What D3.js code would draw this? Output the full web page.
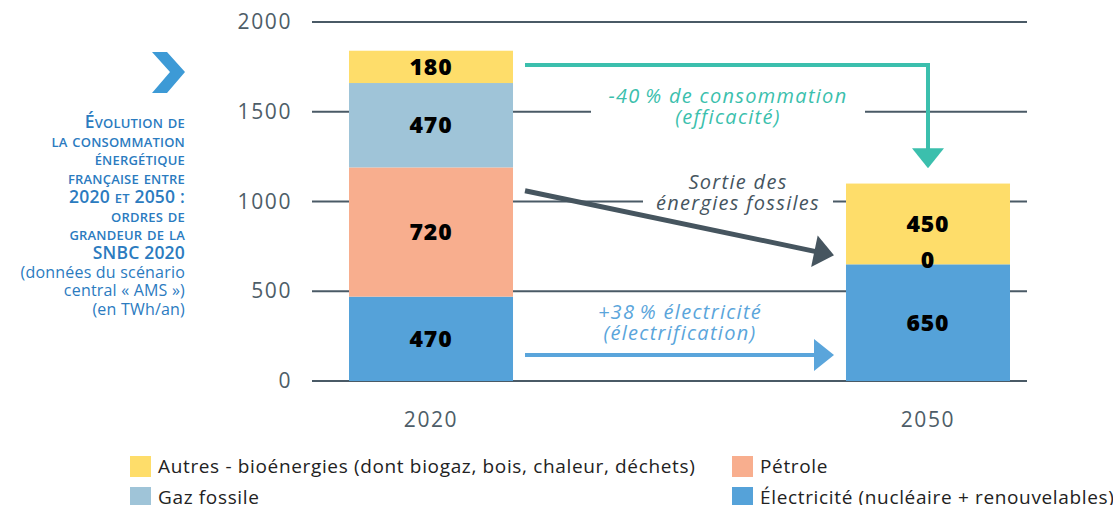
<!DOCTYPE html>
<meta charset="utf-8">
<head>
  <script src="https://d3js.org/d3.v7.min.js"></script>
  <style>
    body { margin: 0; background: #fff; }
    svg text { font-family: "Open Sans", sans-serif; }
  </style>
</head>
<body>
<div id="chart"></div>
<script>
"use strict"

// données (TWh/an)
var annees = ["2020", "2050"];
var electricite = [470, 650];
var petrole = [720, 0];
var gaz = [470, 0];
var autres = [180, 450];
var series = ["electricite", "petrole", "gaz", "autres"];
var nomsSeries = ["Électricité (nucléaire + renouvelables)", "Pétrole", "Gaz fossile",
                  "Autres - bioénergies (dont biogaz, bois, chaleur, déchets)"];
var couleurs = ["#55a2d9", "#f8ae8e", "#9fc4d8", "#fedd6a"];
var ticksY = [0, 500, 1000, 1500, 2000];

var titre = ["Évolution de", "la consommation", "énergétique", "française entre",
             "2020 et 2050 :", "ordres de", "grandeur de la", "SNBC 2020",
             "(données du scénario", "central « AMS »)", "(en TWh/an)"];

var largeur = 1113, hauteur = 505;
var svg = d3.select("#chart").append("svg")
            .attr("width", largeur).attr("height", hauteur);

var x = d3.scaleBand().domain(annees).range([349, 1010]).paddingInner(0.67).paddingOuter(0);
var y = d3.scaleLinear().domain([0, 2000]).range([381, 22]);

// grille + axe
var grille = svg.append("g");
grille.selectAll("line").data(ticksY).enter().append("line")
  .attr("x1", 312).attr("x2", 1027)
  .attr("y1", d => y(d)).attr("y2", d => y(d))
  .attr("stroke", "#4a5a66").attr("stroke-width", 2);
grille.selectAll("text").data(ticksY).enter().append("text")
  .attr("x", 292).attr("y", d => y(d) + 7)
  .attr("text-anchor", "end")
  .attr("font-size", 21).attr("fill", "#4d5d68")
  .attr("letter-spacing", 1.6)
  .text(d => d);

// empiler
var table = annees.map((a, i) => ({annee: a, electricite: electricite[i], petrole: petrole[i], gaz: gaz[i], autres: autres[i]}));
var pile = d3.stack().keys(series)(table);

// masques blancs pour les annotations (coupent la grille)
var masques = [[591, 100, 274, 26], [643, 190, 190, 24]];
svg.selectAll("rect.masque").data(masques).enter().append("rect")
  .attr("class", "masque")
  .attr("x", d => d[0]).attr("y", d => d[1]).attr("width", d => d[2]).attr("height", d => d[3])
  .attr("fill", "#fff");

var barres = svg.append("g");
pile.forEach(function(s, k) {
  barres.selectAll("rect.s" + k).data(s).enter().append("rect")
    .attr("class", "s" + k)
    .attr("x", d => x(d.data.annee))
    .attr("width", x.bandwidth())
    .attr("y", d => y(d[1]))
    .attr("height", d => y(d[0]) - y(d[1]))
    .attr("fill", couleurs[k]);
});

// étiquettes des valeurs
pile.forEach(function(s, k) {
  s.forEach(function(d) {
    var v = d[1] - d[0];
    if (v === 0 && series[k] !== "petrole") return;
    svg.append("text")
      .attr("x", x(d.data.annee) + x.bandwidth() / 2)
      .attr("y", y((d[0] + d[1]) / 2) + 8 - (v === 0 ? 4 : 0))
      .attr("text-anchor", "middle")
      .attr("font-size", 23).attr("font-weight", 800).attr("fill", "#000")
      .attr("letter-spacing", 0.8)
      .text(v);
  });
});

// axe x
svg.selectAll("text.annee").data(annees).enter().append("text")
  .attr("class", "annee")
  .attr("x", d => x(d) + x.bandwidth() / 2).attr("y", 427)
  .attr("text-anchor", "middle").attr("font-size", 21).attr("fill", "#4d5d68")
  .attr("letter-spacing", 1.6)
  .text(d => d);

// flèches
function fleche(pts, c, w) {
  var ligne = d3.line();
  var a = pts[pts.length - 2], b = pts[pts.length - 1];
  svg.append("path").attr("d", ligne(pts.slice(0, -1).concat([raccourcir(a, b, 16)])))
    .attr("fill", "none").attr("stroke", c).attr("stroke-width", w);
  var ang = Math.atan2(b[1] - a[1], b[0] - a[0]);
  var L = 20, H = 16;
  var base = [b[0] - L * Math.cos(ang), b[1] - L * Math.sin(ang)];
  var p1 = [base[0] + H * Math.sin(ang), base[1] - H * Math.cos(ang)];
  var p2 = [base[0] - H * Math.sin(ang), base[1] + H * Math.cos(ang)];
  svg.append("path").attr("d", "M" + b + "L" + p1 + "L" + p2 + "Z").attr("fill", c);
}
function raccourcir(a, b, n) {
  var dx = b[0] - a[0], dy = b[1] - a[1], l = Math.sqrt(dx * dx + dy * dy);
  return [b[0] - dx / l * n, b[1] - dy / l * n];
}
var xd = x("2020") + x.bandwidth() + 12, xf = x("2050") + x.bandwidth() / 2;
fleche([[xd, y(1760)], [xf, y(1760)], [xf, y(1185)]], "#3bbfad", 4);
fleche([[xd, y(1060)], [x("2050") - 12, y(700)]], "#46555f", 5);
fleche([[xd, y(145)], [x("2050") - 12, y(145)]], "#5aa5db", 4);

// textes des annotations
function note(lignes, cx, y0, c) {
  var t = svg.append("text").attr("text-anchor", "middle")
    .attr("font-size", 20).attr("font-style", "italic")
    .attr("letter-spacing", 1.3).attr("fill", c);
  lignes.forEach(function(l, i) {
    t.append("tspan").attr("x", cx).attr("y", y0 + i * 21).text(l);
  });
}
note(["-40\u2009% de consommation", "(efficacité)"], 728, 103, "#3bbfad");
note(["Sortie des", "énergies fossiles"], 738, 189, "#46555f");
note(["+38\u2009% électricité", "(électrification)"], 680, 319, "#5aa5db");

// chevron
svg.append("path").attr("d", "M152,52 L167,52 L185,72 L167,93 L152,93 L170,72 Z").attr("fill", "#3d9ad6");

// titre : petites capitales simulées
titre.forEach(function(t, i) {
  var txt = svg.append("text").attr("x", 185).attr("y", 128 + i * 18.7)
    .attr("text-anchor", "end").attr("fill", "#2b7bbf");
  if (i >= 8) {
    txt.attr("font-size", 16).attr("letter-spacing", 0.2).text(t);
    return;
  }
  txt.attr("font-weight", 600);
  var morceaux = [];
  t.split("").forEach(function(ch) {
    var petit = ch !== ch.toUpperCase();
    var dern = morceaux[morceaux.length - 1];
    if (dern && dern.petit === petit) dern.s += ch;
    else morceaux.push({petit: petit, s: ch});
  });
  morceaux.forEach(function(m) {
    txt.append("tspan")
      .attr("font-size", m.petit ? 13 : 17.5)
      .attr("letter-spacing", 0.2)
      .text(m.s.toUpperCase());
  });
});

// légende
var ordreLegende = [3, 1, 2, 0];
var posLegende = [[130, 456], [732, 456], [130, 487], [732, 487]];
ordreLegende.forEach(function(k, i) {
  var p = posLegende[i];
  svg.append("rect").attr("x", p[0]).attr("y", p[1]).attr("width", 21).attr("height", 21).attr("fill", couleurs[k]);
  svg.append("text").attr("x", p[0] + 28).attr("y", p[1] + 17)
    .attr("font-size", 19).attr("letter-spacing", 0.65).attr("fill", "#222").text(nomsSeries[k]);
});
</script>
</body>
